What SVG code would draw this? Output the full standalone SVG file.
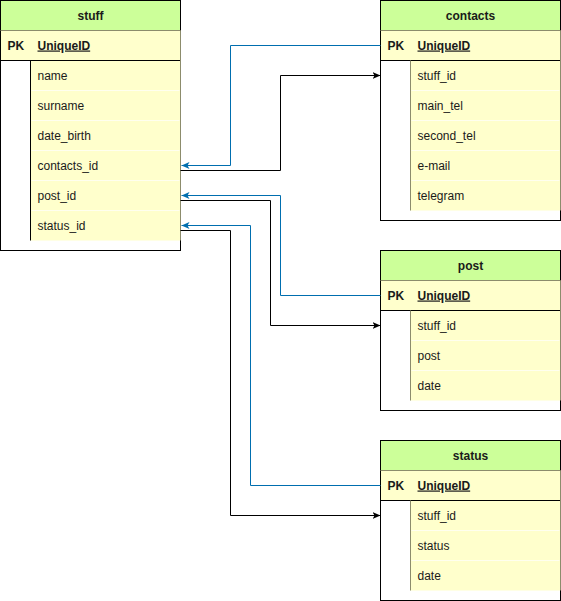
<svg xmlns="http://www.w3.org/2000/svg" width="561" height="601" viewBox="0 0 561 601">
<style>
.outer{fill:#ffffff;stroke:#000000;stroke-width:1}
.hdr{fill:#ccff99;stroke:none}
.pk{fill:#ffffcc;stroke:none}
.fld{fill:#ffffcc;stroke:none}
.sep{stroke:#ffffff;stroke-width:1;opacity:0.7}
.ol{stroke:#8c8c6c;stroke-width:1;fill:none}
.blk{stroke:#000000;stroke-width:1;fill:none}
text{font-family:"Liberation Sans",Arial,sans-serif;font-size:12px;fill:#1a1a1a}
.t{font-weight:bold;text-anchor:middle}
.b{font-weight:bold}
.u{font-weight:bold;text-decoration:underline}
.cb{stroke:#006eaf;stroke-width:1;fill:none}
.ck{stroke:#000000;stroke-width:1;fill:none}
</style>
<defs>
<marker id="ab" markerWidth="10" markerHeight="10" refX="8" refY="4" orient="auto" markerUnits="userSpaceOnUse"><path d="M0,0.5 L8,4 L0,7.5 L2,4 Z" fill="#006eaf"/></marker>
<marker id="ak" markerWidth="10" markerHeight="10" refX="8" refY="4" orient="auto" markerUnits="userSpaceOnUse"><path d="M0,0.5 L8,4 L0,7.5 L2,4 Z" fill="#000000"/></marker>
</defs>
<g transform="translate(0.5,0.5)">
<g id="stuff">
<rect class="outer" x="0" y="0" width="180" height="250"/>
<rect class="hdr" x="0.5" y="0.5" width="179" height="29.5"/>
<rect class="pk" x="0.5" y="30" width="179" height="30"/>
<rect class="fld" x="30" y="60" width="149.5" height="180"/>
<line class="ol" x1="0" y1="30" x2="180" y2="30"/>
<line class="blk" x1="0" y1="60" x2="180" y2="60"/>
<line class="blk" x1="30" y1="60" x2="30" y2="240"/>
<line class="ol" x1="180" y1="30" x2="180" y2="240"/>
<line class="sep" x1="31" y1="90" x2="179" y2="90"/>
<line class="sep" x1="31" y1="120" x2="179" y2="120"/>
<line class="sep" x1="31" y1="150" x2="179" y2="150"/>
<line class="sep" x1="31" y1="180" x2="179" y2="180"/>
<line class="sep" x1="31" y1="210" x2="179" y2="210"/>
<text class="t" x="90" y="19">stuff</text>
<text class="b" x="7" y="49">PK</text>
<text class="u" x="37" y="49">UniqueID</text>
<text x="37" y="79">name</text>
<text x="37" y="109">surname</text>
<text x="37" y="139">date_birth</text>
<text x="37" y="169">contacts_id</text>
<text x="37" y="199">post_id</text>
<text x="37" y="229">status_id</text>
</g>
<g id="contacts">
<rect class="outer" x="380" y="0" width="180" height="220"/>
<rect class="hdr" x="380.5" y="0.5" width="179" height="29.5"/>
<rect class="pk" x="380.5" y="30" width="179" height="30"/>
<rect class="fld" x="410" y="60" width="149.5" height="150"/>
<line class="ol" x1="380" y1="30" x2="560" y2="30"/>
<line class="blk" x1="380" y1="60" x2="560" y2="60"/>
<line class="ol" x1="410" y1="60" x2="410" y2="210"/>
<line class="ol" x1="560" y1="30" x2="560" y2="210"/>
<line class="sep" x1="411" y1="90" x2="559" y2="90"/>
<line class="sep" x1="411" y1="120" x2="559" y2="120"/>
<line class="sep" x1="411" y1="150" x2="559" y2="150"/>
<line class="sep" x1="411" y1="180" x2="559" y2="180"/>
<text class="t" x="470" y="19">contacts</text>
<text class="b" x="387" y="49">PK</text>
<text class="u" x="417" y="49">UniqueID</text>
<text x="417" y="79">stuff_id</text>
<text x="417" y="109">main_tel</text>
<text x="417" y="139">second_tel</text>
<text x="417" y="169">e-mail</text>
<text x="417" y="199">telegram</text>
</g>
<g id="post">
<rect class="outer" x="380" y="250" width="180" height="160"/>
<rect class="hdr" x="380.5" y="250.5" width="179" height="29.5"/>
<rect class="pk" x="380.5" y="280" width="179" height="30"/>
<rect class="fld" x="410" y="310" width="149.5" height="90"/>
<line class="ol" x1="380" y1="280" x2="560" y2="280"/>
<line class="blk" x1="380" y1="310" x2="560" y2="310"/>
<line class="ol" x1="410" y1="310" x2="410" y2="400"/>
<line class="ol" x1="560" y1="280" x2="560" y2="400"/>
<line class="sep" x1="411" y1="340" x2="559" y2="340"/>
<line class="sep" x1="411" y1="370" x2="559" y2="370"/>
<text class="t" x="470" y="269">post</text>
<text class="b" x="387" y="299">PK</text>
<text class="u" x="417" y="299">UniqueID</text>
<text x="417" y="329">stuff_id</text>
<text x="417" y="359">post</text>
<text x="417" y="389">date</text>
</g>
<g id="status">
<rect class="outer" x="380" y="440" width="180" height="160"/>
<rect class="hdr" x="380.5" y="440.5" width="179" height="29.5"/>
<rect class="pk" x="380.5" y="470" width="179" height="30"/>
<rect class="fld" x="410" y="500" width="149.5" height="90"/>
<line class="ol" x1="380" y1="470" x2="560" y2="470"/>
<line class="blk" x1="380" y1="500" x2="560" y2="500"/>
<line class="ol" x1="410" y1="500" x2="410" y2="590"/>
<line class="ol" x1="560" y1="470" x2="560" y2="590"/>
<line class="sep" x1="411" y1="530" x2="559" y2="530"/>
<line class="sep" x1="411" y1="560" x2="559" y2="560"/>
<text class="t" x="470" y="459">status</text>
<text class="b" x="387" y="489">PK</text>
<text class="u" x="417" y="489">UniqueID</text>
<text x="417" y="519">stuff_id</text>
<text x="417" y="549">status</text>
<text x="417" y="579">date</text>
</g>
<g id="connectors">
<path class="cb" d="M380,45 H230 V165 H181" marker-end="url(#ab)"/>
<path class="ck" d="M180,170 H280 V75 H380" marker-end="url(#ak)"/>
<path class="cb" d="M380,295 H280 V195 H181" marker-end="url(#ab)"/>
<path class="ck" d="M180,200 H270 V325 H380" marker-end="url(#ak)"/>
<path class="cb" d="M380,485 H250 V225 H181" marker-end="url(#ab)"/>
<path class="ck" d="M180,230 H230 V515 H380" marker-end="url(#ak)"/>
</g>
</g>
</svg>
